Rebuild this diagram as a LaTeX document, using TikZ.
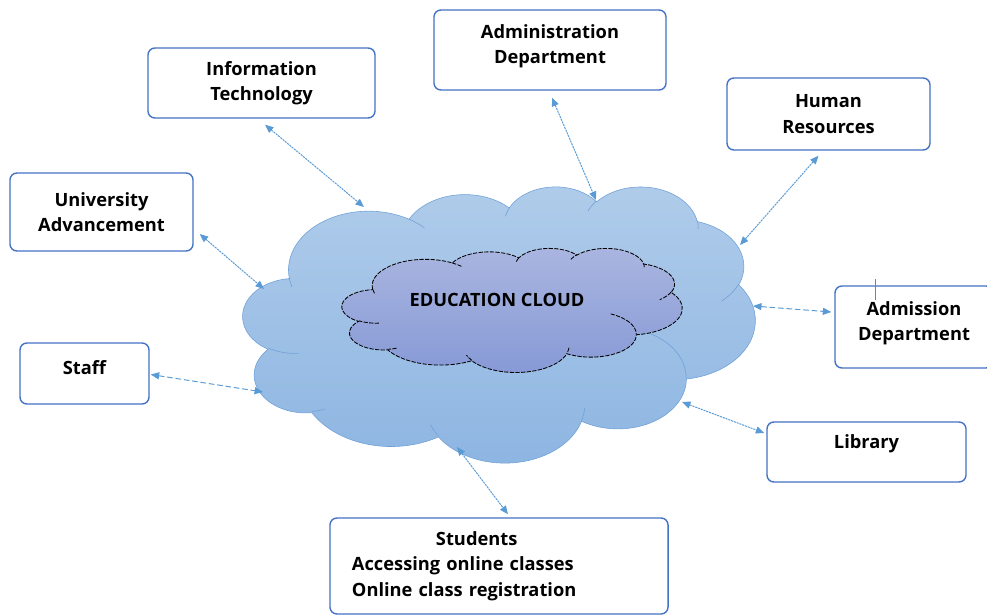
\documentclass[tikz,border=0pt]{standalone}
\usepackage{fontspec}
\setmainfont{Open Sans}
\usetikzlibrary{arrows.meta}
\definecolor{boxblue}{RGB}{68,114,196}
\definecolor{linkblue}{RGB}{91,155,213}
\definecolor{cloud edge}{RGB}{110,160,215}
\definecolor{cloud top}{RGB}{176,204,234}
\definecolor{cloud bottom}{RGB}{141,181,226}
\definecolor{core top}{RGB}{170,182,224}
\definecolor{core bottom}{RGB}{134,153,214}
% one puff: x radius, y radius, start angle, sweep
\newcommand\puff[4]{arc[x radius=#1, y radius=#2,
    start angle={atan2(#1*sin(#3),#2*cos(#3))},
    delta angle={mod(atan2(#1*sin(#3+#4),#2*cos(#3+#4))-atan2(#1*sin(#3),#2*cos(#3))+720,360)}]}
\def\cloudoutline{(9.028,33.264) \puff{15.632}{21.273}{-190.4875}{123.7805}
    \puff{12.345}{16.822}{-144.1024}{89.9452}
    \puff{10.104}{13.762}{-145.8079}{99.7230}
    \puff{11.243}{15.266}{-130.9861}{117.2417}
    \puff{12.345}{16.836}{-78.7089}{109.0269}
    \puff{15.683}{21.343}{-46.2673}{130.2690}
    \puff{13.391}{18.211}{0.6250}{114.0333}
    \puff{15.630}{21.331}{22.4516}{115.1726}
    \puff{17.870}{24.405}{66.2426}{75.7110}
    \puff{10.093}{13.699}{-274.9421}{146.7356}
    \puff{10.058}{13.762}{-246.8285}{152.5189} -- cycle}
\def\cloudcreases{(10.863,60.595) \puff{10.058}{13.762}{86.742}{26.4295}
    (16.037,80.785) \puff{10.093}{13.699}{73.6105}{11.4475}
    (38.144,90.486) \puff{15.630}{21.331}{137.6242}{14.0811}
    (66.729,80.442) \puff{15.630}{21.331}{6.4533}{15.9984}
    (79.002,53.134) \puff{13.391}{18.211}{-70.2924}{70.9174}
    (96.755,35.542) \puff{12.345}{16.836}{30.3180}{27.7515}
    (88.713,12.560) \puff{11.243}{15.266}{-13.7443}{14.8589}
    (67.310,9.148) \puff{11.243}{15.266}{-149.1815}{18.1954}
    (51.252,10.926) \puff{10.104}{13.762}{-163.4943}{17.6864}
    (32.407,12.019) \puff{15.632}{21.273}{-66.7070}{12.3194}
    (9.553,36.549) \puff{15.632}{21.273}{157.6544}{11.8582}}
\tikzset{box/.style={draw=boxblue, line width=1pt, rounded corners=5pt, fill=white, align=center},
    link/.style={<->, >={Triangle[length=6pt,width=5pt]}, draw=linkblue, line width=0.7pt, dash pattern=on 1.5pt off 0.6pt},
    dashlink/.style={link, dash pattern=on 4pt off 2pt}}

\begin{document}
\begin{tikzpicture}[x=0.025cm, y=-0.025cm, font=\fontsize{13}{18}\selectfont\bfseries]
    \useasboundingbox (0,0) rectangle (987,616);
    % outer cloud and inner cloud
    \begin{scope}[shift={(243,186)}, x=0.128cm, y=-0.069cm]
        \draw[top color=cloud top, bottom color=cloud bottom, draw=cloud edge, line width=0.4pt] \cloudoutline;
        \draw[cloud edge, line width=0.4pt] \cloudcreases;
    \end{scope}
    \begin{scope}[shift={(342,248)}, x=0.085cm, y=-0.031cm]
        \draw[top color=core top, bottom color=core bottom, dash pattern=on 3pt off 1pt, line width=0.6pt] \cloudoutline;
        \draw[dash pattern=on 3pt off 1pt, line width=0.6pt] \cloudcreases;
    \end{scope}
    \node (edu) at (497,300) {EDUCATION CLOUD};

    \node[box, minimum width=5.675cm, minimum height=1.75cm] (it) at (261.5,83) {Information\\Technology};
    \node[box, minimum width=4.575cm, minimum height=1.95cm] (univ) at (101.5,212) {University\\Advancement};
    \node[box, minimum width=5.8cm, minimum height=2cm, text depth=8pt] (admin) at (550,50) {Administration\\Department};
    \node[box, minimum width=5.075cm, minimum height=1.8cm] (hr) at (828.5,114) {Human\\Resources};
    \node[box, minimum width=3.95cm, minimum height=2.05cm, text depth=8.8pt] (admis) at (914,327) {Admission\\Department};
    \node[box, minimum width=3.225cm, minimum height=1.525cm, text depth=9.2pt] (staff) at (84.5,373.5) {Staff};
    \node[box, minimum width=4.975cm, minimum height=1.5cm, text depth=14.5pt] (library) at (866.5,452) {Library};
    \node[box, text width=7.35cm, inner xsep=0.55cm, minimum height=2.4cm, align=left] (students) at (499,566)
        {\hspace*{2.1cm}Students\\Accessing online classes\\Online class registration};

    % where the links meet the cloud
    \coordinate (c-it) at (364,207);
    \coordinate (c-univ) at (264,289);
    \coordinate (c-admin) at (596,200);
    \coordinate (c-hr) at (740,245);
    \coordinate (c-admis) at (753,306);
    \coordinate (c-staff) at (263,392);
    \coordinate (c-library) at (682,402);
    \coordinate (c-students) at (457,447);

    \draw[link] ([shift={(3.5,6)}]it.south) -- (c-it);
    \draw[link] ([shift={(6,22)}]univ.east) -- (c-univ);
    \draw[link] ([shift={(2,7)}]admin.south) -- (c-admin);
    \draw[link] ([shift={(-10,5)}]hr.south) -- (c-hr);
    \draw[dashlink] (c-admis) -- ([shift={(-3,-15)}]admis.west);
    \draw[dashlink] ([shift={(1,1)}]staff.east) -- (c-staff);
    \draw[link] (c-library) -- ([shift={(-2,-19)}]library.west);
    \draw[link] (c-students) -- ([shift={(9,-3)}]students.north);
    \draw[gray, line width=0.4pt] ([shift={(-39,-48)}]admis.center) -- ++(0,21);
\end{tikzpicture}
\end{document}
